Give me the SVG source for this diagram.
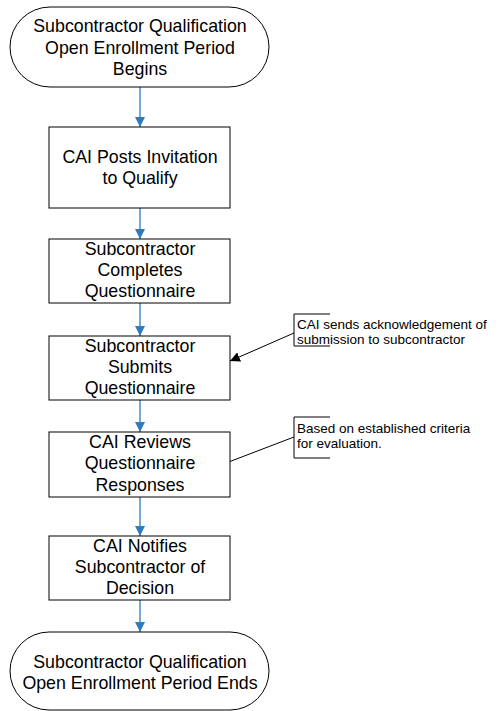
<svg xmlns="http://www.w3.org/2000/svg" width="504" height="711" viewBox="0 0 504 711">
<style>
.box{fill:#fff;stroke:#000;stroke-width:1}
.t{font-family:"Liberation Sans",Arial,sans-serif;font-size:17.8px;text-anchor:middle;fill:#000}
.n{font-family:"Liberation Sans",Arial,sans-serif;font-size:13.5px;fill:#000}
.c{stroke:#2e7bbf;stroke-width:1.3;fill:none;marker-end:url(#ab)}
.k{stroke:#000;stroke-width:1;fill:none}
</style>
<defs>
<marker id="ab" markerWidth="10" markerHeight="10" refX="10" refY="5" orient="auto" markerUnits="userSpaceOnUse">
<path d="M0,0 L10,5 L0,10 Z" fill="#2e7bbf"/>
</marker>
<marker id="ak" markerWidth="10" markerHeight="10" refX="10" refY="5" orient="auto" markerUnits="userSpaceOnUse">
<path d="M0,0 L10,5 L0,10 Z" fill="#000"/>
</marker>
</defs>
<rect width="504" height="711" fill="#fff"/>
<g id="connectors">
<line class="c" x1="140" y1="87" x2="140" y2="127"/>
<line class="c" x1="140" y1="208" x2="140" y2="239"/>
<line class="c" x1="140" y1="303" x2="140" y2="336"/>
<line class="c" x1="140" y1="400" x2="140" y2="432"/>
<line class="c" x1="140" y1="497" x2="140" y2="536"/>
<line class="c" x1="140" y1="600" x2="140" y2="632"/>
<line class="k" x1="294" y1="333" x2="230" y2="361" marker-end="url(#ak)"/>
<line class="k" x1="294" y1="437" x2="226" y2="463"/>
</g>
<g id="start">
<rect class="box" x="10" y="7" width="259" height="80" rx="40" ry="40"/>
<text class="t" x="140" y="32">Subcontractor Qualification</text>
<text class="t" x="140" y="54">Open Enrollment Period</text>
<text class="t" x="140" y="75">Begins</text>
</g>
<g id="n1">
<rect class="box" x="49" y="127" width="181" height="81"/>
<text class="t" x="140" y="163">CAI Posts Invitation</text>
<text class="t" x="140" y="184">to Qualify</text>
</g>
<g id="n2">
<rect class="box" x="49" y="239" width="181" height="64"/>
<text class="t" x="140" y="255">Subcontractor</text>
<text class="t" x="140" y="276">Completes</text>
<text class="t" x="140" y="297">Questionnaire</text>
</g>
<g id="n3">
<rect class="box" x="49" y="336" width="181" height="64"/>
<text class="t" x="140" y="352">Subcontractor</text>
<text class="t" x="140" y="373">Submits</text>
<text class="t" x="140" y="394">Questionnaire</text>
</g>
<g id="n4">
<rect class="box" x="49" y="432" width="181" height="65"/>
<text class="t" x="140" y="448">CAI Reviews</text>
<text class="t" x="140" y="469">Questionnaire</text>
<text class="t" x="140" y="491">Responses</text>
</g>
<g id="n5">
<rect class="box" x="49" y="536" width="181" height="64"/>
<text class="t" x="140" y="552">CAI Notifies</text>
<text class="t" x="140" y="573">Subcontractor of</text>
<text class="t" x="140" y="594">Decision</text>
</g>
<g id="end">
<rect class="box" x="10" y="632" width="259" height="78" rx="39" ry="39"/>
<text class="t" x="140" y="668">Subcontractor Qualification</text>
<text class="t" x="140" y="689">Open Enrollment Period Ends</text>
</g>
<g id="note1">
<path class="k" d="M330,314 H294 V346 H330"/>
<text class="n" x="297" y="329">CAI sends acknowledgement of</text>
<text class="n" x="297" y="344">submission to subcontractor</text>
</g>
<g id="note2">
<path class="k" d="M330,417 H294 V458 H330"/>
<text class="n" x="297" y="433">Based on established criteria</text>
<text class="n" x="297" y="448">for evaluation.</text>
</g>
</svg>
